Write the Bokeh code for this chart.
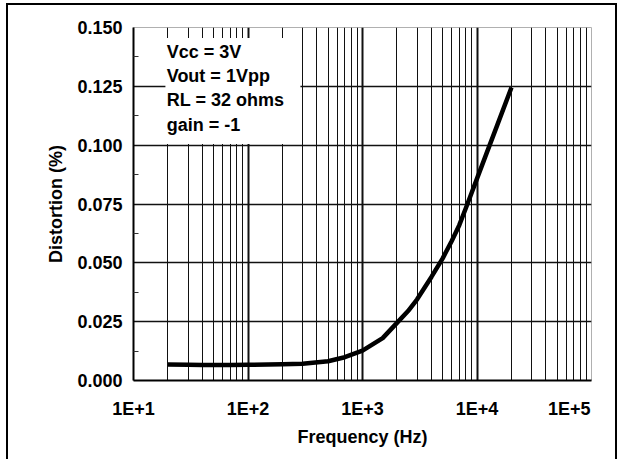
from bokeh.plotting import figure
from bokeh.models import (Range1d, FixedTicker, PrintfTickFormatter, BoxAnnotation, Label)
from bokeh.embed import file_html
from bokeh.resources import INLINE

# ---- data ----
freq_hz = [20, 30, 40, 50, 70, 100, 150, 200, 300, 500, 700, 1000, 1500, 2000, 2500,
           3000, 4000, 5000, 6000, 7000, 8000, 9000, 10000, 12000, 15000, 20000]
distortion_pct = [0.0068, 0.0067, 0.0066, 0.0066, 0.0066, 0.0067, 0.0068, 0.0069,
                  0.0071, 0.0082, 0.0099, 0.0127, 0.0180, 0.0245, 0.0295,
                  0.0345, 0.0440, 0.0518, 0.0592, 0.0660, 0.0733, 0.0799, 0.0858,
                  0.0960, 0.1084, 0.1245]

x_major_ticks = [10, 100, 1000, 10000, 100000]
x_tick_labels = ["1E+1", "1E+2", "1E+3", "1E+4", "1E+5"]
x_minor_ticks = [m * d for d in [10, 100, 1000, 10000] for m in range(2, 10)]
y_major_ticks = [0.0, 0.025, 0.05, 0.075, 0.1, 0.125, 0.15]
y_minor_ticks = [0.0125, 0.0375, 0.0625, 0.0875, 0.1125, 0.1375]

note_lines = ["Vcc = 3V", "Vout = 1Vpp", "RL = 32 ohms", "gain = -1"]

FONT = "Liberation Sans"

# outer frame of the whole graphic, drawn as inset CSS shadows on the figure element
frame_css = ", ".join([
    "inset 6px 0 0 0 white", "inset 0 3px 0 0 white", "inset -3px 0 0 0 white",
    "inset 8px 0 0 0 black", "inset 0 5px 0 0 black", "inset -5px 0 0 0 black",
])

p = figure(width=620, height=459, x_axis_type="log",
           x_range=Range1d(10, 100000), y_range=Range1d(0, 0.15),
           output_backend="svg", toolbar_location=None,
           min_border_left=133, min_border_right=29,
           min_border_top=27, min_border_bottom=79,
           styles={"box-shadow": frame_css})

p.border_fill_alpha = 0
p.background_fill_color = "white"
p.outline_line_color = "#b0b0b0"
p.outline_line_width = 1

# x axis
xa = p.xaxis[0]
xa.ticker = FixedTicker(ticks=x_major_ticks, minor_ticks=x_minor_ticks)
overrides = {t: l for t, l in zip(x_major_ticks, x_tick_labels)}
# last label sits pulled in from the right edge, as in the original
overrides[x_major_ticks[-1]] = x_tick_labels[-1] + "\u00a0" * 6
xa.major_label_overrides = overrides
xa.axis_label = "Frequency (Hz)"
# y axis
ya = p.yaxis[0]
ya.ticker = FixedTicker(ticks=y_major_ticks, minor_ticks=y_minor_ticks)
ya.formatter = PrintfTickFormatter(format="%.3f")
ya.axis_label = "Distortion (%)"

for ax in (xa, ya):
    ax.axis_line_color = "black"
    ax.axis_line_width = 2
    ax.major_tick_in = 0
    ax.major_tick_out = 0
    ax.major_label_text_font = FONT
    ax.major_label_text_font_style = "bold"
    ax.major_label_text_font_size = "18px"
    ax.major_label_text_color = "black"
    ax.axis_label_text_font = FONT
    ax.axis_label_text_font_style = "bold"
    ax.axis_label_text_font_size = "18px"
    ax.axis_label_text_color = "black"

xa.minor_tick_in = 0
xa.minor_tick_out = 0
xa.major_label_standoff = 18
xa.axis_label_standoff = 5

ya.minor_tick_in = 5
ya.minor_tick_out = 0
ya.minor_tick_line_color = "#333333"
ya.major_label_standoff = 11
ya.axis_label_standoff = 8

# grids
p.xgrid.grid_line_color = "#111111"
p.xgrid.grid_line_width = 2
p.xgrid.minor_grid_line_color = "#111111"
p.xgrid.minor_grid_line_width = 1
p.ygrid.grid_line_color = "#111111"
p.ygrid.grid_line_width = 1.5

# curve
p.line(freq_hz, distortion_pct, line_color="black", line_width=4.5, line_join="round")

# note box
box = BoxAnnotation(left=19, right=287, bottom=0.1005, top=0.1455,
                    fill_color="white", fill_alpha=1.0, line_alpha=0)
p.add_layout(box)
note = Label(x=19.5, y=0.1440, text="\n".join(note_lines), text_align="left",
             text_baseline="top", text_font=FONT, text_font_style="bold",
             text_font_size="18px", text_color="black", text_line_height=1.22)
p.add_layout(note)

open("out.html", "w").write(file_html(p, INLINE))
